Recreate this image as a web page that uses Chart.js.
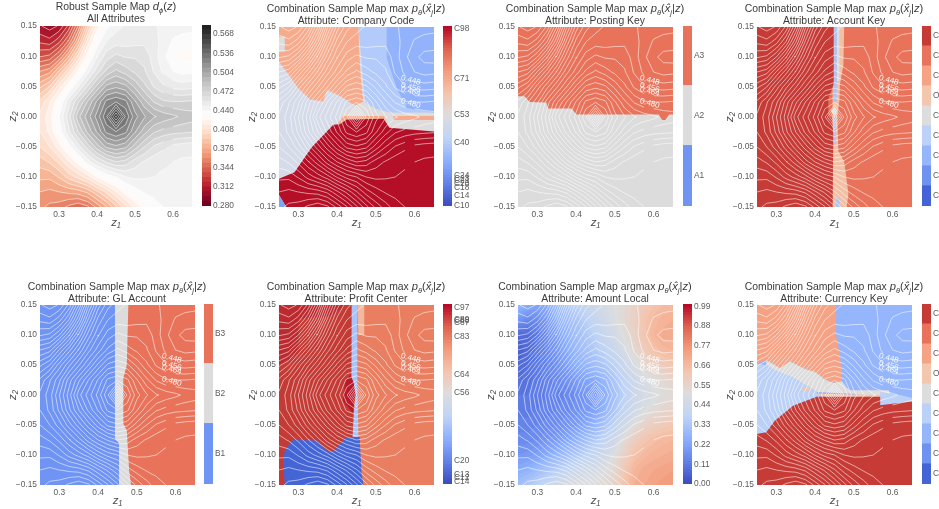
<!DOCTYPE html>
<html>
<head>
<meta charset="utf-8">
<script src="https://cdn.jsdelivr.net/npm/chart.js@4/dist/chart.umd.js"></script>
<style>
  html, body { margin: 0; background: #fff; }
  #page { position: relative; width: 939px; height: 509px; overflow: hidden; font-family: "Liberation Sans", Arial, sans-serif; filter: blur(0.4px); }
  canvas { position: absolute; }
  .title { position: absolute; text-align: center; white-space: nowrap; font-size: 10.4px; line-height: 12.3px; color: #3a3a3a; transform: translateX(-50%); }
  .title .m { font-size: 11.2px; }
  .title sub { font-size: 7.5px; line-height: 0; }
</style>
</head>
<body>
<div id="page"></div>
<script>
// grid of the sample map, rows run from the top of the plot down
const z1Values = [0.25, 0.275, 0.3, 0.325, 0.35, 0.375, 0.4, 0.425, 0.45, 0.475, 0.5, 0.525, 0.55, 0.575, 0.6, 0.625, 0.65];
const z2Values = [0.15, 0.125, 0.1, 0.075, 0.05, 0.025, 0, -0.025, -0.05, -0.075, -0.1, -0.125, -0.15];
const z1Ticks = [0.3, 0.4, 0.5, 0.6];
const z2Ticks = [-0.15, -0.1, -0.05, 0, 0.05, 0.1, 0.15];

const densityRows = [
  [.305, .300, .305, .322, .352, .390, .420, .437, .445, .449, .451, .450, .449, .446, .444, .443, .442],
  [.318, .315, .325, .345, .375, .410, .435, .448, .452, .452, .453, .454, .451, .445, .439, .437, .437],
  [.335, .338, .352, .375, .402, .428, .447, .460, .466, .463, .463, .461, .452, .442, .434, .429, .428],
  [.360, .365, .385, .405, .425, .445, .460, .474, .482, .476, .470, .465, .455, .446, .440, .437, .438],
  [.382, .392, .412, .430, .447, .464, .482, .498, .502, .498, .486, .474, .463, .457, .453, .452, .453],
  [.402, .415, .430, .452, .470, .488, .505, .522, .527, .522, .505, .490, .479, .473, .472, .472, .473],
  [.410, .420, .440, .460, .485, .500, .515, .535, .570, .535, .515, .505, .497, .493, .490, .486, .484],
  [.408, .418, .434, .454, .472, .490, .505, .522, .528, .522, .505, .491, .481, .477, .475, .474, .473],
  [.400, .408, .420, .436, .452, .468, .484, .498, .502, .498, .484, .472, .463, .458, .453, .451, .450],
  [.388, .393, .402, .415, .428, .444, .456, .465, .472, .469, .460, .455, .451, .449, .448, .447, .447],
  [.378, .378, .385, .395, .403, .412, .425, .435, .440, .448, .450, .449, .448, .447, .446, .445, .445],
  [.368, .366, .368, .370, .372, .378, .390, .402, .415, .428, .436, .441, .443, .444, .443, .442, .442],
  [.362, .358, .356, .350, .345, .350, .362, .375, .390, .405, .418, .428, .436, .440, .441, .441, .440]
];

const amountRows = [
  [.28, .24, .22, .24, .28, .32, .36, .40, .43, .46, .49, .52, .55, .59, .62, .64, .65],
  [.18, .14, .15, .19, .24, .28, .32, .36, .40, .44, .48, .52, .56, .61, .65, .67, .68],
  [.06, .07, .11, .16, .21, .26, .30, .33, .37, .41, .45, .50, .55, .61, .66, .69, .70],
  [.04, .07, .11, .15, .19, .24, .28, .31, .34, .38, .42, .47, .52, .58, .62, .65, .66],
  [.06, .08, .11, .14, .17, .21, .25, .27, .30, .33, .37, .42, .47, .52, .56, .58, .60],
  [.08, .09, .11, .13, .15, .17, .20, .22, .24, .28, .33, .38, .43, .47, .50, .52, .54],
  [.10, .10, .11, .12, .13, .14, .16, .18, .19, .25, .31, .37, .42, .46, .48, .50, .51],
  [.11, .11, .12, .13, .14, .15, .17, .19, .22, .27, .33, .39, .44, .48, .51, .53, .55],
  [.13, .13, .14, .15, .16, .18, .20, .23, .27, .32, .38, .44, .50, .54, .57, .59, .60],
  [.15, .15, .16, .18, .20, .23, .26, .30, .34, .39, .44, .51, .57, .61, .63, .65, .66],
  [.18, .19, .21, .24, .27, .30, .33, .37, .40, .44, .50, .56, .62, .65, .67, .68, .69],
  [.24, .26, .29, .32, .35, .39, .42, .44, .46, .49, .53, .60, .66, .69, .70, .71, .72],
  [.30, .33, .37, .41, .44, .47, .49, .50, .50, .51, .55, .62, .68, .70, .72, .73, .74]
];

// contour labels, [text, z1, z2]
const contourLabels = [['0.448', 0.59, 0.0614], ['0.456', 0.59, 0.0493], ['0.464', 0.59, 0.0427], ['0.480', 0.59, 0.0228]];

const wholePlot = [[0.25, 0.15], [0.65, 0.15], [0.65, -0.15], [0.25, -0.15]];

// decision regions, [category, outline], later ones lie over earlier ones
const companyRegions = [
  ['C53b', wholePlot],
  ['C71', [[.25, .15], [.455, .15], [.457, .109], [.461, .065], [.468, .026], [.461, .015], [.437, .023], [.407, .035], [.374, .045], [.364, .026], [.33, .029], [.299, .048], [.278, .068], [.25, .092]]],
  ['C53', [[.25, .109], [.265, .109], [.265, .134], [.25, .134]]],
  ['C40', [[.455, .15], [.65, .15], [.65, .007], [.537, .007], [.494, .015], [.472, .026], [.466, .065], [.461, .109]]],
  ['C24', [[.528, .15], [.65, .15], [.65, .007], [.58, .015], [.554, .048], [.528, .098]]],
  ['C53', [[.412, .007], [.44, .017], [.468, .026], [.5, .012], [.537, .007], [.65, .007], [.65, -.024], [.53, -.018], [.52, 0], [.412, -.01]]],
  ['C71', [[.545, .0015], [.65, .0015], [.65, -.005], [.545, -.005]]],
  ['C71', [[.416, .0015], [.52, .0015], [.528, -.006], [.4, -.012]]],
  ['C98', [[.407, -.012], [.425, -.004], [.52, -.003], [.535, -.018], [.65, -.024], [.65, -.15], [.269, -.15], [.25, -.13], [.25, -.103], [.29, -.092], [.334, -.051], [.39, -.013]]],
  ['C18', [[.25, -.13], [.269, -.15], [.25, -.15]]]
];

const postingRegions = [
  ['A2', wholePlot],
  ['A3', [[.25, .0345], [.267, .0345], [.28, .025], [.323, .024], [.328, .014], [.388, .014], [.401, .004], [.613, .004], [.622, -.005], [.63, -.005], [.64, .004], [.65, .004], [.65, .15], [.25, .15]]]
];

const accountRegions = [
  ['C7', wholePlot],
  ['O1', [[.445, .15], [.475, .15], [.473, .087], [.464, .054], [.4625, .026], [.457, .002], [.46, -.057], [.475, -.074], [.486, -.128], [.4815, -.15], [.445, -.15]]],
  ['C4', [[.456, .15], [.4625, .15], [.4625, .06], [.456, .06]]],
  ['C3', [[.449, .15], [.456, .15], [.456, .055], [.454, .05], [.456, .025], [.448, .025], [.446, .04], [.449, .06]]],
  ['C3', [[.449, 0], [.454, 0], [.454, -.045], [.449, -.045]]],
  ['C3', [[.454, -.136], [.4625, -.136], [.4625, -.15], [.454, -.15]]],
  ['C4', [[.44, .01], [.45, .017], [.456, .008], [.45, .002]]],
  ['C8', [[.25, .15], [.448, .15], [.448, .055], [.434, .03], [.434, .003], [.443, 0], [.447, -.03], [.445, -.15], [.25, -.15]]]
];

const glRegions = [
  ['B3', wholePlot],
  ['B2', [[.44, .15], [.478, .15], [.474, .05], [.465, .028], [.465, -.048], [.474, -.059], [.48, -.125], [.485, -.15], [.44, -.15]]],
  ['B1', [[.25, .15], [.4435, .15], [.4435, -.073], [.454, -.081], [.454, -.15], [.25, -.15]]]
];

const profitRegions = [
  ['C83', wholePlot],
  ['C64', [[.452, .15], [.47, .15], [.47, .1], [.455, .1]]],
  ['C89', [[.25, .15], [.44, .15], [.445, -.07], [.45, -.15], [.25, -.15]]],
  ['C88', [[.25, .15], [.42, .15], [.38, .13], [.3, .128], [.3, .07], [.25, .05]]],
  ['C97', [[.42, .02], [.435, .035], [.443, .02], [.448, 0], [.44, -.03], [.415, -.01]]],
  ['C40', [[.4375, .15], [.452, .15], [.452, .02], [.455, -.07], [.44, -.07], [.443, -.03], [.448, 0], [.443, .02], [.437, .03]]],
  ['C14', [[.265, -.15], [.26, -.103], [.269, -.087], [.286, -.075], [.347, -.076], [.377, -.095], [.394, -.092], [.42, -.072], [.446, -.07], [.458, -.07], [.463, -.13], [.468, -.15]]]
];

const currencyRegions = [
  ['C3', wholePlot],
  ['O1', [[.25, .15], [.454, .15], [.454, .1], [.464, .067], [.469, .023], [.447, .02], [.425, .026], [.399, .039], [.378, .042], [.335, .056], [.309, .045], [.274, .058], [.25, .052]]],
  ['C5', [[.25, .052], [.274, .05], [.3, .04], [.34, .03], [.38, .015], [.405, .005], [.404, -.003], [.343, -.018], [.296, -.043], [.274, -.062], [.25, -.065]]],
  ['C4', [[.274, .058], [.309, .045], [.335, .056], [.378, .042], [.399, .039], [.425, .026], [.447, .02], [.469, .023], [.482, .012], [.49, .008], [.59, .008], [.6, -.005], [.58, -.01], [.5, .002], [.405, .005], [.38, .015], [.34, .03], [.3, .04], [.274, .05]]],
  ['C6', [[.365, .012], [.39, .012], [.385, .007], [.37, .007]]],
  ['C6', [[.408, .002], [.575, 0], [.57, -.01], [.408, -.002]]],
  ['C5', [[.568, .005], [.62, 0], [.65, -.005], [.65, -.011], [.568, -.017]]],
  ['C9', [[.25, -.065], [.274, -.062], [.296, -.043], [.343, -.018], [.404, -.003], [.568, -.003], [.568, -.017], [.65, -.011], [.65, -.15], [.25, -.15]]]
];

// colorbar ticks: labels and where they sit along the bar (0 bottom, 1 top)
const densityTickLabels = ['0.280', '0.312', '0.344', '0.376', '0.408', '0.440', '0.472', '0.504', '0.536', '0.568'];
const densityTickSpots = [0, .1055, .211, .3165, .422, .5275, .633, .7385, .844, .9495];
const companyTickLabels = ['C10', 'C14', 'C18', 'C20', 'C21', 'C23', 'C24', 'C40', 'C53', 'C71', 'C98'];
const companyTickSpots = [.004, .055, .101, .125, .138, .152, .171, .354, .505, .708, .987];
const postingTickLabels = ['A1', 'A2', 'A3'];
const thirdsSpots = [1 / 6, .5, 5 / 6];
const accountTickLabels = ['C1', 'C2', 'C3', 'C4', 'C5', 'O1', 'C6', 'C7', 'C8'];
const ninthsSpots = [1 / 18, 3 / 18, 5 / 18, 7 / 18, 9 / 18, 11 / 18, 13 / 18, 15 / 18, 17 / 18];
const glTickLabels = ['B1', 'B2', 'B3'];
const profitTickLabels = ['C14', 'C12', 'C13', 'C20', 'C56', 'C64', 'C83', 'C87', 'C88', 'C89', 'C97'];
const profitTickSpots = [.015, .037, .049, .128, .51, .609, .819, .897, .905, .912, .978];
const amountTickLabels = ['0.00', '0.11', '0.22', '0.33', '0.44', '0.55', '0.66', '0.77', '0.88', '0.99'];
const amountTickSpots = [0, .1097, .2194, .3291, .4388, .5485, .6582, .7679, .8776, .9873];
const currencyTickLabels = ['C1', 'C2', 'C3', 'C4', 'C5', 'O1', 'C6', 'C7', 'C8'];

// colours
const rdGyStops = ['#67001f', '#b2182b', '#d6604d', '#f4a582', '#fddbc7', '#ffffff', '#e0e0e0', '#bababa', '#878787', '#4d4d4d', '#1a1a1a'];
const coolwarmStops = ['#3b4cc0', '#6282ea', '#8db0fe', '#c0d4f5', '#dddddd', '#f5c4ad', '#f49a7b', '#de604d', '#b40426'];
const nineColors = ['#4463d7', '#6f92f0', '#95b5fd', '#bcd1f7', '#dddddd', '#f3c6ae', '#f6a385', '#e8725a', '#c73b37'];
const threeColors = ['#6f94f3', '#dcdcdc', '#e8735a'];

const companyColors = { C53b: '#d5dbe8', C71: '#f6ab8c', C53: '#dedcdc', C40: '#b3cbfa', C24: '#92b3fc', C98: '#b40f26', C18: '#7fa3f5' };
const postingColors = { A2: threeColors[1], A3: threeColors[2] };
const glColors = { B1: threeColors[0], B2: threeColors[1], B3: threeColors[2] };
const accountColors = { C3: '#a9c4fb', C4: '#dddddd', O1: '#f3c0a5', C7: '#e8725a', C8: '#c73b37' };
const profitColors = { C83: '#e97f60', C64: '#f5b89d', C89: '#c43b35', C88: '#bc2a30', C97: '#b81a2a', C40: '#a9c4fb', C14: '#4465d6' };
const currencyColors = { C3: '#95b5fd', O1: '#f6a385', C5: '#bcd1f7', C4: '#dddddd', C6: '#f3c6ae', C9: '#c73b37' };

function hexToRgb(h) {
  return [parseInt(h.slice(1, 3), 16), parseInt(h.slice(3, 5), 16), parseInt(h.slice(5, 7), 16)];
}

function ramp(stops, t) {
  t = Math.min(1, Math.max(0, t)) * (stops.length - 1);
  const k = Math.min(stops.length - 2, Math.floor(t));
  const a = hexToRgb(stops[k]), b = hexToRgb(stops[k + 1]);
  const c = a.map((v, i) => Math.round(v + (b[i] - v) * (t - k)));
  return 'rgb(' + c.join(',') + ')';
}

function stepLevels(from, to, step) {
  const out = [];
  for (let i = 0; from + i * step <= to + 1e-9; i++) out.push(+(from + i * step).toFixed(4));
  return out;
}

// marching squares on the grid with a low ring round it, so every contour closes
function traceLoops(rows, level) {
  const nr = rows.length + 2, nc = rows[0].length + 2;
  const val = (i, j) => (i === 0 || j === 0 || i === nr - 1 || j === nc - 1) ? -1e6 : rows[i - 1][j - 1];
  const xAt = j => z1Values[Math.min(z1Values.length - 1, Math.max(0, j - 1))];
  const yAt = i => z2Values[Math.min(z2Values.length - 1, Math.max(0, i - 1))];
  const next = new Map(), spot = new Map();
  for (let i = 0; i < nr - 1; i++) {
    for (let j = 0; j < nc - 1; j++) {
      const corners = [[i, j], [i, j + 1], [i + 1, j + 1], [i + 1, j]];
      const crossings = [];
      for (let k = 0; k < 4; k++) {
        const [ai, aj] = corners[k], [bi, bj] = corners[(k + 1) % 4];
        const va = val(ai, aj), vb = val(bi, bj);
        if ((va >= level) === (vb >= level)) continue;
        const key = Math.min(ai, bi) + ':' + Math.min(aj, bj) + ':' + (ai === bi ? 'h' : 'v');
        const t = (level - va) / (vb - va);
        spot.set(key, { x: xAt(aj) + (xAt(bj) - xAt(aj)) * t, y: yAt(ai) + (yAt(bi) - yAt(ai)) * t });
        crossings.push({ key, up: vb >= level });
      }
      crossings.forEach((c, k) => {
        if (c.up) next.set(c.key, crossings[(k + 1) % crossings.length].key);
      });
    }
  }
  const loops = [], seen = new Set();
  for (const start of next.keys()) {
    if (seen.has(start)) continue;
    const loop = [];
    let key = start;
    while (key !== undefined && !seen.has(key)) {
      seen.add(key);
      loop.push(spot.get(key));
      key = next.get(key);
    }
    loops.push(loop);
  }
  return loops;
}

function loopArea(loop) {
  let a = 0;
  loop.forEach((p, i) => {
    const q = loop[(i + 1) % loop.length];
    a += p.x * q.y - q.x * p.y;
  });
  return a / 2;
}

function shape(points, color) {
  return { data: points, showLine: true, fill: 'shape', backgroundColor: color, borderWidth: 0, pointRadius: 0, tension: 0 };
}

function regionShapes(regions, colors) {
  return regions.map(([cat, outline]) => shape(outline.map(([x, y]) => ({ x, y })), colors[cat]));
}

// filled bands, painted from the lowest level upward
function bandShapes(rows, levels, colorOf) {
  const out = [shape(wholePlot.map(([x, y]) => ({ x, y })), colorOf(levels[0]))];
  levels.slice(1).forEach((level, n) => {
    traceLoops(rows, level).forEach(loop => {
      out.push(shape(loop, loopArea(loop) > 0 ? colorOf(level) : colorOf(levels[n])));
    });
  });
  return out;
}

function onSameEdge(p, q) {
  return (p.x === q.x && (p.x === 0.25 || p.x === 0.65)) || (p.y === q.y && (p.y === 0.15 || p.y === -0.15));
}

function contourLines(rows, levels) {
  return levels.map(level => {
    const label = contourLabels.find(l => +l[0] === level);
    const data = [];
    traceLoops(rows, level).forEach(loop => {
      loop.forEach((p, i) => {
        const q = loop[(i + 1) % loop.length];
        data.push(p);
        const mid = (p.x + q.x) / 2;
        if (onSameEdge(p, q) || (label && Math.abs(mid - label[1]) < 0.014)) data.push({ x: p.x, y: null });
        else if (i === loop.length - 1) data.push(q, { x: q.x, y: null });
      });
    });
    return { data, showLine: true, fill: false, borderColor: 'rgba(255,255,255,0.72)', borderWidth: 0.75, pointRadius: 0, tension: 0 };
  });
}

const labelPlugin = {
  id: 'contourText',
  afterDatasetsDraw(chart) {
    const { ctx, scales } = chart;
    ctx.save();
    ctx.fillStyle = 'rgba(255,255,255,0.95)';
    ctx.font = '8px "Liberation Sans"';
    ctx.textAlign = 'center';
    ctx.textBaseline = 'middle';
    contourLabels.forEach(([text, x, y]) => {
      ctx.save();
      ctx.translate(scales.x.getPixelForValue(x), scales.y.getPixelForValue(y));
      ctx.rotate(15 * Math.PI / 180);
      ctx.fillText(text, 0, 0);
      ctx.restore();
    });
    ctx.restore();
  }
};

const page = document.getElementById('page');
const tickColor = '#5c5c5c';
const tickFont = { family: 'Liberation Sans', size: 8.4 };
const axisNameFont = { family: 'Liberation Sans', style: 'italic', size: 11.5 };

function addCanvas(left, top, w, h) {
  const c = document.createElement('canvas');
  c.width = w; c.height = h;
  c.style.left = left + 'px'; c.style.top = top + 'px';
  page.appendChild(c);
  return c;
}

function drawMap(box, layers, labelled) {
  const [left, top, right, bottom] = box;
  const gutterL = 34, gutterB = 23, pad = 6;
  const canvas = addCanvas(left - gutterL, top - pad, right - left + gutterL + 2, bottom - top + pad + gutterB);
  const n = layers.length;
  layers.forEach((d, i) => { d.order = n - i; });
  new Chart(canvas, {
    type: 'scatter',
    data: { datasets: layers },
    plugins: labelled ? [labelPlugin] : [],
    options: {
      responsive: false,
      animation: false,
      events: [],
      layout: { padding: { top: pad, right: 2, left: 0, bottom: 0 } },
      plugins: { legend: { display: false }, tooltip: { enabled: false } },
      scales: {
        x: {
          type: 'linear', min: 0.25, max: 0.65,
          grid: { display: false, drawTicks: false }, border: { display: false },
          afterBuildTicks: s => { s.ticks = z1Ticks.map(value => ({ value })); },
          afterFit: s => { s.height = gutterB; },
          ticks: { color: tickColor, font: tickFont, padding: 3, maxRotation: 0, callback: v => v.toFixed(1) },
          title: { display: true, text: 'z₁', color: '#4a4a4a', padding: 0, font: axisNameFont }
        },
        y: {
          type: 'linear', min: -0.15, max: 0.15,
          grid: { display: false, drawTicks: false }, border: { display: false },
          afterBuildTicks: s => { s.ticks = z2Ticks.map(value => ({ value })); },
          afterFit: s => { s.width = gutterL; },
          ticks: { color: tickColor, font: tickFont, padding: 3, callback: v => v.toFixed(2).replace('-', '−') },
          title: { display: true, text: 'z₂', color: '#4a4a4a', padding: 0, font: axisNameFont }
        }
      }
    }
  });
}

function drawBar(left, top, bottom, bands, labels, spots) {
  const barW = 9, pad = 6;
  const w = Math.min(40, 939 - left);
  const canvas = addCanvas(left, top - pad, w, bottom - top + 2 * pad);
  new Chart(canvas, {
    type: 'bar',
    data: {
      labels: [''],
      datasets: bands.map(b => ({ data: [[b[0], b[1]]], backgroundColor: b[2], borderWidth: 0, barPercentage: 1, categoryPercentage: 1, grouped: false }))
    },
    options: {
      responsive: false,
      animation: false,
      events: [],
      layout: { padding: { top: pad, bottom: pad, left: 0, right: 0 } },
      plugins: { legend: { display: false }, tooltip: { enabled: false } },
      scales: {
        x: { display: false, stacked: false },
        y: {
          position: 'right', min: 0, max: 1,
          grid: { display: false, drawTicks: false }, border: { display: false },
          afterBuildTicks: s => { s.ticks = spots.map(value => ({ value })); },
          afterFit: s => { s.width = w - barW; },
          ticks: { color: tickColor, font: tickFont, padding: 2, autoSkip: false, callback: v => labels[spots.indexOf(v)] }
        }
      }
    }
  });
}

function smoothBands(count, colorAt) {
  const out = [];
  for (let i = 0; i < count; i++) out.push([i / count, (i + 1.05) / count, colorAt((i + 0.5) / count)]);
  return out;
}

function stepBands(colors) {
  return colors.map((c, i) => [i / colors.length, (i + 1.01) / colors.length, c]);
}

function addTitle(center, top, html) {
  const d = document.createElement('div');
  d.className = 'title';
  d.style.left = center + 'px';
  d.style.top = top + 'px';
  d.innerHTML = html;
  page.appendChild(d);
}

const mathPart = '<span class="m"><i>p<sub>θ</sub></i>(<i>x̂<sub>j</sub></i>|<i>z</i>)</span>';
const maxHead = 'Combination Sample Map max ' + mathPart;
const argHead = 'Combination Sample Map argmax ' + mathPart;

const densityLevels = stepLevels(0.28, 0.584, 0.008);
const contourLevels = stepLevels(0.304, 0.568, 0.008);
const densityColor = v => ramp(rdGyStops, (v + 0.004 - 0.28) / 0.304);
const amountLevels = stepLevels(0, 0.99, 0.02);
const amountColor = v => ramp(coolwarmStops, (v + 0.01) / 0.99);
const lines = () => contourLines(densityRows, contourLevels);

drawMap([40, 24, 192, 207], [...bandShapes(densityRows, densityLevels, densityColor), ...lines()], false);
drawBar(202, 24, 207, stepBands(densityLevels.slice(0, -1).map(densityColor)), densityTickLabels, densityTickSpots);
addTitle(116, 0, 'Robust Sample Map <span class="m"><i>d<sub>ϕ</sub></i>(<i>z</i>)</span><br>All Attributes');

drawMap([279, 25, 434, 207], [...regionShapes(companyRegions, companyColors), ...lines()], true);
drawBar(443, 25, 207, smoothBands(64, t => ramp(coolwarmStops, t)), companyTickLabels, companyTickSpots);
addTitle(356, 2, maxHead + '<br>Attribute: Company Code');

drawMap([518, 25, 673, 207], [...regionShapes(postingRegions, postingColors), ...lines()], true);
drawBar(683, 25, 207, stepBands(threeColors), postingTickLabels, thirdsSpots);
addTitle(595, 2, maxHead + '<br>Attribute: Posting Key');

drawMap([757, 25, 912, 207], [...regionShapes(accountRegions, accountColors), ...lines()], true);
drawBar(922, 25, 207, stepBands(nineColors), accountTickLabels, ninthsSpots);
addTitle(834, 2, maxHead + '<br>Attribute: Account Key');

drawMap([40, 303, 195, 485], [...regionShapes(glRegions, glColors), ...lines()], true);
drawBar(204, 303, 485, stepBands(threeColors), glTickLabels, thirdsSpots);
addTitle(117, 280, maxHead + '<br>Attribute: GL Account');

drawMap([279, 303, 434, 485], [...regionShapes(profitRegions, profitColors), ...lines()], true);
drawBar(443, 303, 485, smoothBands(64, t => ramp(coolwarmStops, t)), profitTickLabels, profitTickSpots);
addTitle(356, 280, maxHead + '<br>Attribute: Profit Center');

drawMap([518, 303, 673, 485], [...bandShapes(amountRows, amountLevels, amountColor), ...lines()], true);
drawBar(683, 303, 485, smoothBands(64, t => ramp(coolwarmStops, t)), amountTickLabels, amountTickSpots);
addTitle(595, 280, argHead + '<br>Attribute: Amount Local');

drawMap([757, 303, 912, 485], [...regionShapes(currencyRegions, currencyColors), ...lines()], true);
drawBar(922, 303, 485, stepBands(nineColors), currencyTickLabels, ninthsSpots);
addTitle(834, 280, maxHead + '<br>Attribute: Currency Key');
</script>
</body>
</html>
